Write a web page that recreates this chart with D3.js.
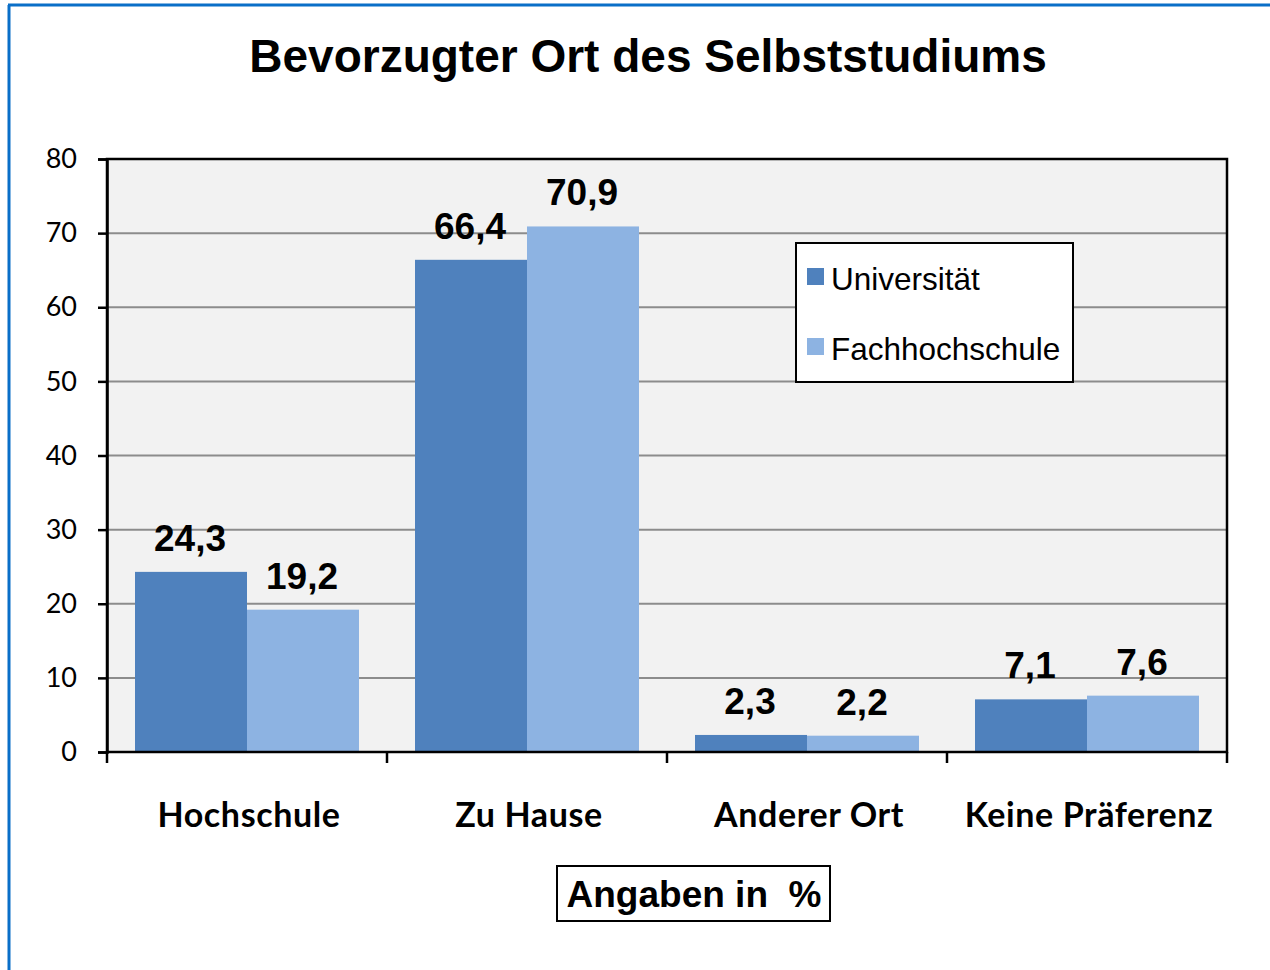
<!DOCTYPE html>
<html lang="de">
<head>
<meta charset="UTF-8">
<title>Bevorzugter Ort des Selbststudiums</title>
<script src="https://d3js.org/d3.v7.min.js"></script>
<style>
  body { margin: 0; background: #fff; }
</style>
</head>
<body>
<script>
// data
var categories = ["Hochschule", "Zu Hause", "Anderer Ort", "Keine Präferenz"];
var seriesNames = ["Universität", "Fachhochschule"];
var uniValues = [24.3, 66.4, 2.3, 7.1];
var fhValues = [19.2, 70.9, 2.2, 7.6];
var yTicks = [0, 10, 20, 30, 40, 50, 60, 70, 80];
var colors = ["#4f81bd", "#8db3e2"];

var width = 1270, height = 970;
var pLeft = 107, pRight = 1227, pTop = 159, pBottom = 752;

var svg = d3.select("body").append("svg")
  .attr("width", width).attr("height", height);

// outer frame (blue, left and top only visible)
svg.append("line").attr("x1", 9).attr("x2", 9).attr("y1", 5).attr("y2", height)
  .attr("stroke", "#0a6fc8").attr("stroke-width", 3);
svg.append("line").attr("x1", 8).attr("x2", width).attr("y1", 5).attr("y2", 5)
  .attr("stroke", "#0a6fc8").attr("stroke-width", 3);

svg.append("text")
  .attr("x", 648).attr("y", 72)
  .attr("text-anchor", "middle")
  .style("font-family", "Liberation Sans, Arial, sans-serif")
  .style("font-weight", "bold").style("font-size", "46px")
  .text("Bevorzugter Ort des Selbststudiums");

var x = d3.scaleBand().domain(categories).range([pLeft, pRight]).paddingInner(0).paddingOuter(0);
var x1 = d3.scaleBand().domain(seriesNames).range([0, x.bandwidth()]).paddingInner(0).paddingOuter(0.25);
var y = d3.scaleLinear().domain([0, 80]).range([pBottom, pTop]);

// plot background
svg.append("rect").attr("x", pLeft).attr("y", pTop)
  .attr("width", pRight - pLeft).attr("height", pBottom - pTop)
  .attr("fill", "#f2f2f2");

// gridlines
svg.append("g").selectAll("line").data(yTicks.filter(function(d){ return d > 0 && d < 80; }))
  .enter().append("line")
  .attr("x1", pLeft).attr("x2", pRight)
  .attr("y1", function(d){ return y(d); }).attr("y2", function(d){ return y(d); })
  .attr("stroke", "#8c8c8c").attr("stroke-width", 2);

// bars
var rows = categories.map(function(c, i){ return {cat: c, vals: [uniValues[i], fhValues[i]]}; });
var groups = svg.append("g").selectAll("g").data(rows).enter().append("g")
  .attr("transform", function(d){ return "translate(" + x(d.cat) + ",0)"; });

groups.selectAll("rect").data(function(d){
    return d.vals.map(function(v, j){ return {name: seriesNames[j], v: v, j: j}; });
  }).enter().append("rect")
  .attr("x", function(d){ return x1(d.name); })
  .attr("width", x1.bandwidth())
  .attr("y", function(d){ return y(d.v); })
  .attr("height", function(d){ return y(0) - y(d.v); })
  .attr("fill", function(d){ return colors[d.j]; });

groups.selectAll("text").data(function(d){
    return d.vals.map(function(v, j){ return {name: seriesNames[j], v: v, j: j}; });
  }).enter().append("text")
  .attr("x", function(d){ return x1(d.name) + x1.bandwidth() / 2 - 1; })
  .attr("y", function(d){ return y(d.v) - 21; })
  .attr("text-anchor", "middle")
  .style("font-family", "Liberation Sans, Arial, sans-serif")
  .style("font-weight", "bold").style("font-size", "37px")
  .text(function(d){ return d3.format(".1f")(d.v).replace(".", ","); });

// plot frame
svg.append("rect").attr("x", pLeft).attr("y", pTop)
  .attr("width", pRight - pLeft).attr("height", pBottom - pTop)
  .attr("fill", "none").attr("stroke", "#000").attr("stroke-width", 2.5);

// y axis
var yAxis = svg.append("g").attr("transform", "translate(" + pLeft + ",0)")
  .call(d3.axisLeft(y).tickValues(yTicks).tickSize(9).tickPadding(21));
yAxis.select(".domain").attr("stroke-width", 2.5);
yAxis.selectAll(".tick line").attr("stroke-width", 2.5);
yAxis.selectAll("text")
  .style("font-family", "Lato, Open Sans, sans-serif")
  .style("font-size", "27px").attr("fill", "#000");

// x axis: ticks at category boundaries
var bounds = categories.map(function(c){ return x(c); }).concat([pRight]);
svg.append("g").selectAll("line").data(bounds).enter().append("line")
  .attr("x1", function(d){ return d; }).attr("x2", function(d){ return d; })
  .attr("y1", pBottom).attr("y2", pBottom + 11)
  .attr("stroke", "#000").attr("stroke-width", 2.5);

svg.append("g").selectAll("text").data(categories).enter().append("text")
  .attr("x", function(d){ return x(d) + x.bandwidth() / 2 + 2; })
  .attr("y", 827)
  .attr("text-anchor", "middle")
  .style("font-family", "Lato, Open Sans, sans-serif")
  .style("font-weight", "bold").style("font-size", "34px")
  .style("letter-spacing", "0.6px")
  .text(function(d){ return d; });

// legend
var legend = svg.append("g");
legend.append("rect").attr("x", 796).attr("y", 243).attr("width", 277).attr("height", 139)
  .attr("fill", "#fff").attr("stroke", "#000").attr("stroke-width", 2);
seriesNames.forEach(function(n, i){
  legend.append("rect").attr("x", 807).attr("y", 268 + i * 70).attr("width", 17).attr("height", 17)
    .attr("fill", colors[i]);
  legend.append("text").attr("x", 831).attr("y", 290 + i * 70)
    .style("font-family", "Liberation Sans, Arial, sans-serif")
    .style("font-size", "31.5px")
    .text(n);
});

// unit box
svg.append("rect").attr("x", 557).attr("y", 866).attr("width", 273).attr("height", 55)
  .attr("fill", "#fff").attr("stroke", "#000").attr("stroke-width", 2);
svg.append("text").attr("x", 694).attr("y", 907)
  .attr("text-anchor", "middle")
  .style("font-family", "Liberation Sans, Arial, sans-serif")
  .style("font-weight", "bold").style("font-size", "37px")
  .style("white-space", "pre")
  .text("Angaben in  %");
</script>
</body>
</html>
